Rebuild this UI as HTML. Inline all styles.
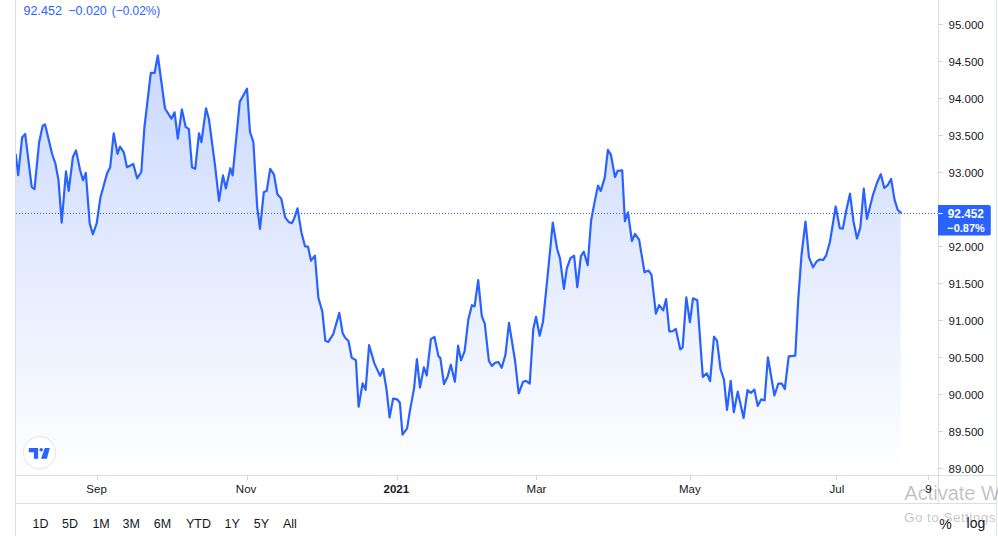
<!DOCTYPE html>
<html><head><meta charset="utf-8"><title>DXY chart</title>
<style>
html,body{margin:0;padding:0;background:#fff;}
body{width:998px;height:536px;overflow:hidden;position:relative;font-family:"Liberation Sans", sans-serif;}
svg{position:absolute;left:0;top:0;display:block;}
</style></head><body>
<svg width="998" height="536" viewBox="0 0 998 536" font-family='"Liberation Sans", sans-serif'>
<defs>
<linearGradient id="g" x1="0" y1="0" x2="0" y2="475" gradientUnits="userSpaceOnUse">
<stop offset="0" stop-color="#2962ff" stop-opacity="0.28"/>
<stop offset="1" stop-color="#2962ff" stop-opacity="0"/>
</linearGradient>
<clipPath id="pane"><rect x="16" y="0" width="922" height="475"/></clipPath>
</defs>
<g clip-path="url(#pane)">
<path d="M15.8,154.6 L18.2,175.1 L22.1,137.6 L25.2,134.1 L31.7,186.8 L34.5,189.1 L39.1,142.5 L42.6,126 L45,124.3 L52,153.5 L55.5,164 L58.5,180.3 L61.7,222.7 L66,171.4 L68.7,190.8 L72.9,157 L76,150.4 L80,169.8 L83,180.3 L85.8,172.8 L89.7,223.4 L92.8,234.3 L96.7,223.4 L100.4,197.7 L107,173.6 L110.2,167.2 L113.7,133.3 L117.5,153.9 L120,146.6 L123.8,152.3 L127,167.2 L133.3,164 L137.1,178.3 L141.3,172 L144.4,127.5 L150.8,72.9 L154.6,72.9 L157.8,55.5 L165,108.5 L171.4,118.7 L174.6,112.3 L177.8,138.7 L181.9,109.4 L185.7,126.9 L188.9,129.1 L192,167.2 L195.2,168.8 L199,133.4 L201.4,142.2 L206,108.3 L208.9,119 L215.2,166.8 L219,200.9 L223,175.4 L225.9,188.4 L230.3,168.2 L232.6,175.4 L239.8,101.7 L247,88.7 L250,132 L253.4,142.2 L257.2,207.2 L260,228.9 L263.8,192.2 L266.7,190.8 L270.2,168.8 L274,174.6 L277.4,194.2 L281.2,198.6 L285.2,217.4 L289,222.3 L291.9,223.1 L294,218.9 L297.5,208.4 L301.4,232.3 L305,246.3 L308,246.6 L311,260.7 L314.9,255.6 L318.4,298 L322.3,311.4 L325.3,340.7 L328.3,341.9 L333.4,333.8 L339.3,312.9 L342.6,332.9 L345,337.5 L348.5,341 L351.7,357.8 L355.9,360.1 L358.6,406.7 L362.6,383.4 L365.6,389.9 L369.1,345.2 L374.3,363.1 L380.1,375.9 L383.1,369 L386.6,389.9 L389.6,417.4 L393.1,398.6 L397.1,399.3 L399.9,402.8 L402.5,434.7 L407.1,428.4 L409.9,410.9 L414.1,388.1 L416.9,359.2 L420,387.6 L423.9,367.3 L426.7,375.5 L430.9,339.1 L434.4,336.8 L438.4,356.1 L440.3,357.9 L444,384.1 L447.6,376.8 L450.8,364.7 L454.9,381.7 L458.1,345.7 L461,360.3 L464.6,351.3 L468.3,319.8 L471.9,305.2 L474.6,306.4 L478.2,280.2 L481.8,316.1 L484.8,323.9 L488.9,361 L492,365.9 L495.2,362.7 L498.6,362.2 L501.7,367.8 L505.4,355 L509,322.9 L515.1,361 L518.7,393.3 L523.1,381.7 L526,380.9 L529.7,383.6 L533.3,328.9 L536,316.8 L539.7,335.7 L543,321.7 L547.4,278 L552.8,222.6 L557.1,248.8 L560,258.5 L563.9,288.9 L566.8,268.3 L570.5,258.1 L574.1,255.6 L577.3,287.2 L580.9,256.1 L583.8,251.7 L587.7,265.3 L591.1,220.5 L594.5,202.6 L598,185.6 L600.7,190.9 L604.8,177.4 L607.9,149.9 L610.9,154.8 L615,177 L617.7,170.8 L622.2,170.4 L624.9,221.1 L628,212.3 L631.9,241 L635,234 L639.1,239.6 L644.5,272.3 L648.6,270.6 L651.5,274.8 L655.9,313.6 L659.1,305.1 L663.2,310.4 L666.1,299 L669.3,331.3 L672.9,331.1 L675.8,328.9 L680.2,349.3 L682.6,347.6 L686.3,297.3 L689.9,322.1 L693,298.3 L697.3,300.2 L702.8,376.9 L706.8,373.3 L710.1,381.2 L714,336.7 L717,340.6 L720.5,369 L724,379.8 L727,409.8 L730.7,380.8 L733.8,412.2 L737.7,391.6 L743.6,418 L747.5,390.2 L750.9,392.9 L754.4,389.6 L757.7,405.9 L761.1,399.4 L764.6,400.4 L767.9,357.3 L774.4,395.5 L778.3,383.7 L781.9,383.7 L784.8,389 L788.7,356.3 L795.3,355.6 L798.2,300 L801.5,255 L805.5,221.5 L809,257.4 L813.1,267.3 L816.6,261.5 L819.6,259.5 L823.3,259.9 L826.2,255.3 L829.9,242 L835.7,206.5 L839.8,228.2 L842.8,228.7 L846.3,210.2 L850,193.7 L853.5,221.5 L857,238.5 L860.3,227.6 L863.8,188.6 L866.9,219 L873,194.8 L877.1,182.5 L880.8,174.2 L884.3,188 L887.8,185.1 L891.1,179 L894.6,199.9 L897.7,209.8 L900.7,212.6 L900.7,475 L15.8,475 Z" fill="url(#g)"/>
<line x1="16" y1="213.5" x2="938" y2="213.5" stroke="#2962ff" stroke-width="1" stroke-dasharray="1 2"/>
<path d="M15.8,154.6 L18.2,175.1 L22.1,137.6 L25.2,134.1 L31.7,186.8 L34.5,189.1 L39.1,142.5 L42.6,126 L45,124.3 L52,153.5 L55.5,164 L58.5,180.3 L61.7,222.7 L66,171.4 L68.7,190.8 L72.9,157 L76,150.4 L80,169.8 L83,180.3 L85.8,172.8 L89.7,223.4 L92.8,234.3 L96.7,223.4 L100.4,197.7 L107,173.6 L110.2,167.2 L113.7,133.3 L117.5,153.9 L120,146.6 L123.8,152.3 L127,167.2 L133.3,164 L137.1,178.3 L141.3,172 L144.4,127.5 L150.8,72.9 L154.6,72.9 L157.8,55.5 L165,108.5 L171.4,118.7 L174.6,112.3 L177.8,138.7 L181.9,109.4 L185.7,126.9 L188.9,129.1 L192,167.2 L195.2,168.8 L199,133.4 L201.4,142.2 L206,108.3 L208.9,119 L215.2,166.8 L219,200.9 L223,175.4 L225.9,188.4 L230.3,168.2 L232.6,175.4 L239.8,101.7 L247,88.7 L250,132 L253.4,142.2 L257.2,207.2 L260,228.9 L263.8,192.2 L266.7,190.8 L270.2,168.8 L274,174.6 L277.4,194.2 L281.2,198.6 L285.2,217.4 L289,222.3 L291.9,223.1 L294,218.9 L297.5,208.4 L301.4,232.3 L305,246.3 L308,246.6 L311,260.7 L314.9,255.6 L318.4,298 L322.3,311.4 L325.3,340.7 L328.3,341.9 L333.4,333.8 L339.3,312.9 L342.6,332.9 L345,337.5 L348.5,341 L351.7,357.8 L355.9,360.1 L358.6,406.7 L362.6,383.4 L365.6,389.9 L369.1,345.2 L374.3,363.1 L380.1,375.9 L383.1,369 L386.6,389.9 L389.6,417.4 L393.1,398.6 L397.1,399.3 L399.9,402.8 L402.5,434.7 L407.1,428.4 L409.9,410.9 L414.1,388.1 L416.9,359.2 L420,387.6 L423.9,367.3 L426.7,375.5 L430.9,339.1 L434.4,336.8 L438.4,356.1 L440.3,357.9 L444,384.1 L447.6,376.8 L450.8,364.7 L454.9,381.7 L458.1,345.7 L461,360.3 L464.6,351.3 L468.3,319.8 L471.9,305.2 L474.6,306.4 L478.2,280.2 L481.8,316.1 L484.8,323.9 L488.9,361 L492,365.9 L495.2,362.7 L498.6,362.2 L501.7,367.8 L505.4,355 L509,322.9 L515.1,361 L518.7,393.3 L523.1,381.7 L526,380.9 L529.7,383.6 L533.3,328.9 L536,316.8 L539.7,335.7 L543,321.7 L547.4,278 L552.8,222.6 L557.1,248.8 L560,258.5 L563.9,288.9 L566.8,268.3 L570.5,258.1 L574.1,255.6 L577.3,287.2 L580.9,256.1 L583.8,251.7 L587.7,265.3 L591.1,220.5 L594.5,202.6 L598,185.6 L600.7,190.9 L604.8,177.4 L607.9,149.9 L610.9,154.8 L615,177 L617.7,170.8 L622.2,170.4 L624.9,221.1 L628,212.3 L631.9,241 L635,234 L639.1,239.6 L644.5,272.3 L648.6,270.6 L651.5,274.8 L655.9,313.6 L659.1,305.1 L663.2,310.4 L666.1,299 L669.3,331.3 L672.9,331.1 L675.8,328.9 L680.2,349.3 L682.6,347.6 L686.3,297.3 L689.9,322.1 L693,298.3 L697.3,300.2 L702.8,376.9 L706.8,373.3 L710.1,381.2 L714,336.7 L717,340.6 L720.5,369 L724,379.8 L727,409.8 L730.7,380.8 L733.8,412.2 L737.7,391.6 L743.6,418 L747.5,390.2 L750.9,392.9 L754.4,389.6 L757.7,405.9 L761.1,399.4 L764.6,400.4 L767.9,357.3 L774.4,395.5 L778.3,383.7 L781.9,383.7 L784.8,389 L788.7,356.3 L795.3,355.6 L798.2,300 L801.5,255 L805.5,221.5 L809,257.4 L813.1,267.3 L816.6,261.5 L819.6,259.5 L823.3,259.9 L826.2,255.3 L829.9,242 L835.7,206.5 L839.8,228.2 L842.8,228.7 L846.3,210.2 L850,193.7 L853.5,221.5 L857,238.5 L860.3,227.6 L863.8,188.6 L866.9,219 L873,194.8 L877.1,182.5 L880.8,174.2 L884.3,188 L887.8,185.1 L891.1,179 L894.6,199.9 L897.7,209.8 L900.7,212.6" fill="none" stroke="#2962ff" stroke-width="2.2" stroke-linejoin="round" stroke-linecap="round"/>
</g>
<rect x="15" y="0" width="1" height="536" fill="#dedede"/>
<rect x="996" y="0" width="1" height="536" fill="#e0e3eb"/>
<rect x="938" y="0" width="1" height="504" fill="#dedede"/>
<rect x="16" y="475" width="980" height="1" fill="#dedede"/>
<rect x="16" y="503" width="980" height="1" fill="#dedede"/>
<g><rect x="938" y="24" width="5" height="1" fill="#d6d6d6"/><rect x="938" y="61" width="5" height="1" fill="#d6d6d6"/><rect x="938" y="98" width="5" height="1" fill="#d6d6d6"/><rect x="938" y="135" width="5" height="1" fill="#d6d6d6"/><rect x="938" y="172" width="5" height="1" fill="#d6d6d6"/><rect x="938" y="209" width="5" height="1" fill="#d6d6d6"/><rect x="938" y="246" width="5" height="1" fill="#d6d6d6"/><rect x="938" y="283" width="5" height="1" fill="#d6d6d6"/><rect x="938" y="320" width="5" height="1" fill="#d6d6d6"/><rect x="938" y="357" width="5" height="1" fill="#d6d6d6"/><rect x="938" y="394" width="5" height="1" fill="#d6d6d6"/><rect x="938" y="431" width="5" height="1" fill="#d6d6d6"/><rect x="938" y="468" width="5" height="1" fill="#d6d6d6"/></g>
<g font-size="11.5" fill="#131722"><text x="948.5" y="29.0">95.000</text><text x="948.5" y="66.0">94.500</text><text x="948.5" y="103.0">94.000</text><text x="948.5" y="140.0">93.500</text><text x="948.5" y="177.0">93.000</text><text x="948.5" y="251.0">92.000</text><text x="948.5" y="288.0">91.500</text><text x="948.5" y="325.0">91.000</text><text x="948.5" y="362.0">90.500</text><text x="948.5" y="399.0">90.000</text><text x="948.5" y="436.0">89.500</text><text x="948.5" y="473.0">89.000</text></g>
<g font-size="11.5" fill="#131722"><rect x="97.0" y="475" width="1" height="5" fill="#d6d6d6"/><text x="96.6" y="493" text-anchor="middle">Sep</text><rect x="247.0" y="475" width="1" height="5" fill="#d6d6d6"/><text x="246.1" y="493" text-anchor="middle">Nov</text><rect x="397.0" y="475" width="1" height="5" fill="#d6d6d6"/><text x="396.3" y="493" text-anchor="middle" font-weight="bold">2021</text><rect x="536.0" y="475" width="1" height="5" fill="#d6d6d6"/><text x="536.5" y="493" text-anchor="middle">Mar</text><rect x="690.0" y="475" width="1" height="5" fill="#d6d6d6"/><text x="689.8" y="493" text-anchor="middle">May</text><rect x="836.0" y="475" width="1" height="5" fill="#d6d6d6"/><text x="836.9" y="493" text-anchor="middle">Jul</text><rect x="928.0" y="475" width="1" height="5" fill="#d6d6d6"/><text x="928.5" y="493" text-anchor="middle">9</text></g>
<g font-size="12.5" fill="#131722"><text x="32.5" y="527.5">1D</text><text x="62" y="527.5">5D</text><text x="92.4" y="527.5">1M</text><text x="122.6" y="527.5">3M</text><text x="153.8" y="527.5">6M</text><text x="186" y="527.5">YTD</text><text x="224.5" y="527.5">1Y</text><text x="253.7" y="527.5">5Y</text><text x="283" y="527.5">All</text></g>
<g font-size="12.5" fill="#2962ff"><text x="23.5" y="15.3" textLength="38.5" lengthAdjust="spacingAndGlyphs">92.452</text><text x="68.3" y="15.3" textLength="38.5" lengthAdjust="spacingAndGlyphs">&#8722;0.020</text><text x="111.8" y="15.3" textLength="48.5" lengthAdjust="spacingAndGlyphs">(&#8722;0.02%)</text></g>
<!-- last price label -->
<path d="M938,205 H988.8 Q990.8,205 990.8,207 V233.4 Q990.8,235.4 988.8,235.4 H938 Z" fill="#2962ff"/>
<rect x="938" y="213" width="4.5" height="1" fill="#fff"/>
<text x="947.8" y="218" font-size="12" font-weight="bold" fill="#fff" textLength="36" lengthAdjust="spacingAndGlyphs">92.452</text>
<text x="947.3" y="231.8" font-size="11.5" font-weight="bold" fill="#fff" textLength="37.5" lengthAdjust="spacingAndGlyphs">&#8722;0.87%</text>
<!-- TV logo -->
<circle cx="39.4" cy="452.6" r="16.2" fill="#fff" stroke="#e0e3eb" stroke-width="1"/>
<path d="M28.8,448 H38.1 V458.7 H33.9 V452.2 H28.8 Z" fill="#2962ff"/>
<circle cx="41.2" cy="449.8" r="1.8" fill="#2962ff"/>
<path d="M44.8,448 H49.8 L46.9,458.7 H41 Z" fill="#2962ff"/>
<text x="939.3" y="528.5" font-size="14" fill="#131722">%</text>
<text x="966.6" y="527.6" font-size="14" fill="#131722">log</text>
<!-- watermark -->
<text x="904.3" y="500.2" font-size="20" fill="#000" fill-opacity="0.25">Activate Windows</text>
<text x="904" y="521.5" font-size="13.5" letter-spacing="0.45" fill="#000" fill-opacity="0.25">Go to Settings to activate Windows.</text>
</svg>
</body></html>
